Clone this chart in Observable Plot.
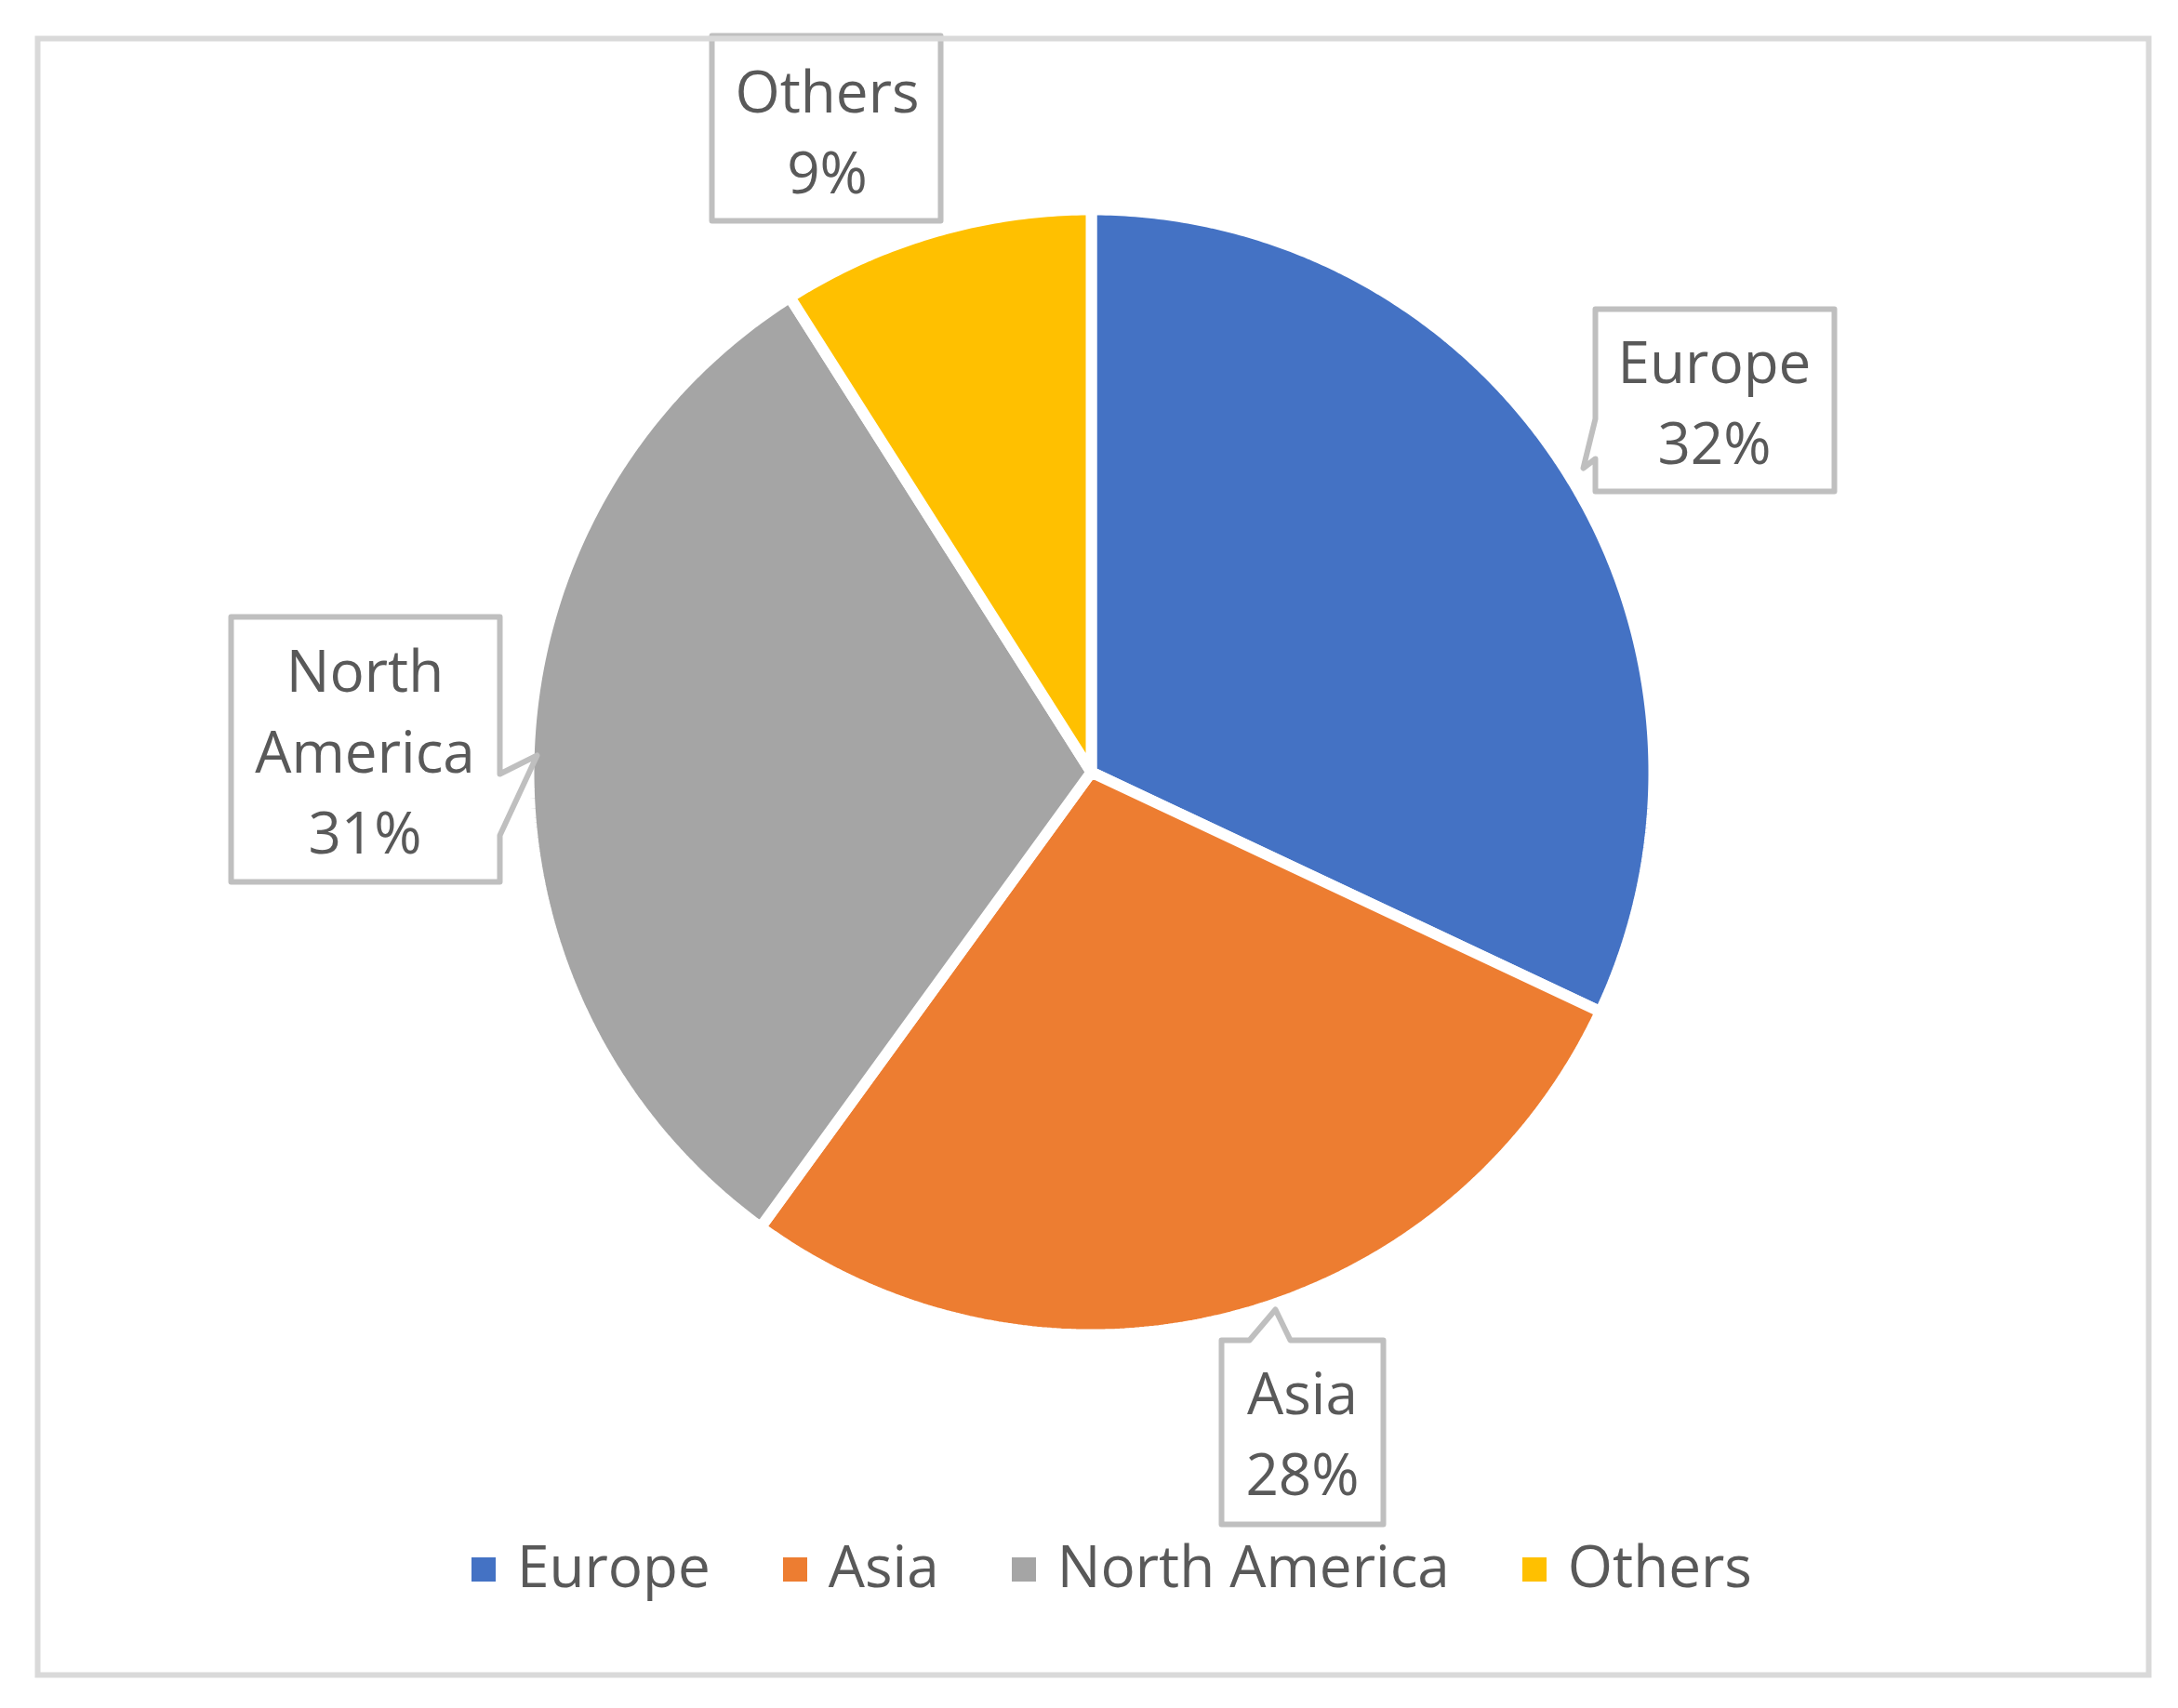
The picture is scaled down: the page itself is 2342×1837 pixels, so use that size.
<!DOCTYPE html>
<html>
<head>
<meta charset="utf-8">
<script src="https://cdn.jsdelivr.net/npm/d3@7"></script>
<script src="https://cdn.jsdelivr.net/npm/@observablehq/plot@0.6"></script>
<style>
  html, body { margin: 0; padding: 0; background: #fff; }
  #wrap { position: relative; width: 2342px; height: 1837px; overflow: hidden; }
  #wrap svg { position: absolute; left: 0; top: 0; }
  #legend { position: absolute; left: 507px; top: 1652px; display: flex; align-items: flex-start;
            font-family: "Open Sans", sans-serif; font-size: 62px; line-height: 62px; color: #595959; white-space: nowrap; }
  .item { display: flex; align-items: flex-start; margin-right: 78px; }
  .item:last-child { margin-right: 0; }
  .sw { width: 26px; height: 26px; margin-top: 23px; margin-right: 23px; flex: none; }
</style>
</head>
<body>
<div id="wrap"></div>
<script>
// ---- data ----
const categories = ["Europe", "Asia", "North America", "Others"];
const shares = [32, 28, 31, 9];
const colors = ["#4472C4", "#ED7D31", "#A5A5A5", "#FFC000"];

// ---- layout ----
const W = 2342, H = 1837;
const CX = 1173, CY = 830, R = 599;          // pie centre / visible radius (px)
const SEP = 12;                                // white separator width
const FONT = "Open Sans, sans-serif";
const FS = 62;

// label callouts (pixel layout of the boxes as placed in the original)
const callouts = {
  "Europe":        {box: [1715, 332, 1972, 528], side: "left",  ptr: [[1715, 493], [1702, 503], [1715, 450]], text: [1843, 427]},
  "Asia":          {box: [1313, 1441, 1487, 1639], side: "top", ptr: [[1343, 1441], [1371, 1408], [1387, 1441]], text: [1400, 1536]},
  "North America": {box: [248, 663, 537, 948], side: "right",   ptr: [[537, 832], [577, 812], [537, 898]], text: [392, 803]},
  "Others":        {box: [765, 38, 1011, 237], side: null,      ptr: [], text: [889, 136]}
};

const ux = px => (px - CX) / R;
const uy = py => (CY - py) / R;

// ---- slices from data ----
const total = d3.sum(shares);
const slicePts = [];
let acc = 0;
const rOut = (R + SEP / 2) / R;
categories.forEach((name, i) => {
  const a0 = acc / total * 2 * Math.PI;
  acc += shares[i];
  const a1 = acc / total * 2 * Math.PI;
  const n = Math.max(2, Math.ceil((a1 - a0) / (Math.PI / 360)));
  slicePts.push({name, x: 0, y: 0});
  for (let k = 0; k <= n; k++) {
    const a = a0 + (a1 - a0) * k / n;
    slicePts.push({name, x: rOut * Math.sin(a), y: rOut * Math.cos(a)});
  }
  slicePts.push({name, x: 0, y: 0});
});

// ---- callout polygons ----
const boxPts = [];
const labels = [];
categories.forEach((name, i) => {
  const c = callouts[name];
  const [x0, y0, x1, y1] = c.box;
  const pts = [[x0, y0]];
  if (c.side === "top") pts.push(...c.ptr);
  pts.push([x1, y0]);
  if (c.side === "right") pts.push(...c.ptr);
  pts.push([x1, y1], [x0, y1]);
  if (c.side === "left") pts.push(...c.ptr);
  pts.push([x0, y0]);
  pts.forEach(([px, py]) => boxPts.push({name, x: ux(px), y: uy(py)}));
  labels.push({name, x: ux(c.text[0]), y: uy(c.text[1]),
               text: name.replace(" ", "\n") + "\n" + shares[i] + "%"});
});

const chart = Plot.plot({
  width: W, height: H, margin: 0,
  style: {background: "transparent", overflow: "visible"},
  x: {domain: [-1, 1], range: [CX - R, CX + R], axis: null},
  y: {domain: [-1, 1], range: [CY + R, CY - R], axis: null},
  color: {domain: categories, range: colors},
  marks: [
    Plot.line(slicePts, {x: "x", y: "y", z: "name", fill: "name", stroke: "white",
                         strokeWidth: SEP, strokeLinejoin: "miter", curve: "linear"}),
    Plot.line(boxPts, {x: "x", y: "y", z: "name", fill: "white", stroke: "#BFBFBF",
                       strokeWidth: 6, strokeLinejoin: "round", curve: "linear"}),
    Plot.text(labels, {x: "x", y: "y", text: "text", fontSize: FS, lineHeight: 1.4,
                       fontFamily: FONT, fill: "#595959", textAnchor: "middle"}),
    Plot.frame({stroke: "#D9D9D9", strokeWidth: 6, insetLeft: 40, insetTop: 41, insetRight: 32, insetBottom: 36})
  ]
});

const wrap = document.getElementById("wrap");
wrap.appendChild(chart);

const legend = document.createElement("div");
legend.id = "legend";
categories.forEach((name, i) => {
  const it = document.createElement("div");
  it.className = "item";
  const sw = document.createElement("div");
  sw.className = "sw";
  sw.style.background = colors[i];
  const t = document.createElement("span");
  t.textContent = name;
  it.appendChild(sw);
  it.appendChild(t);
  legend.appendChild(it);
});
wrap.appendChild(legend);
</script>
</body>
</html>
